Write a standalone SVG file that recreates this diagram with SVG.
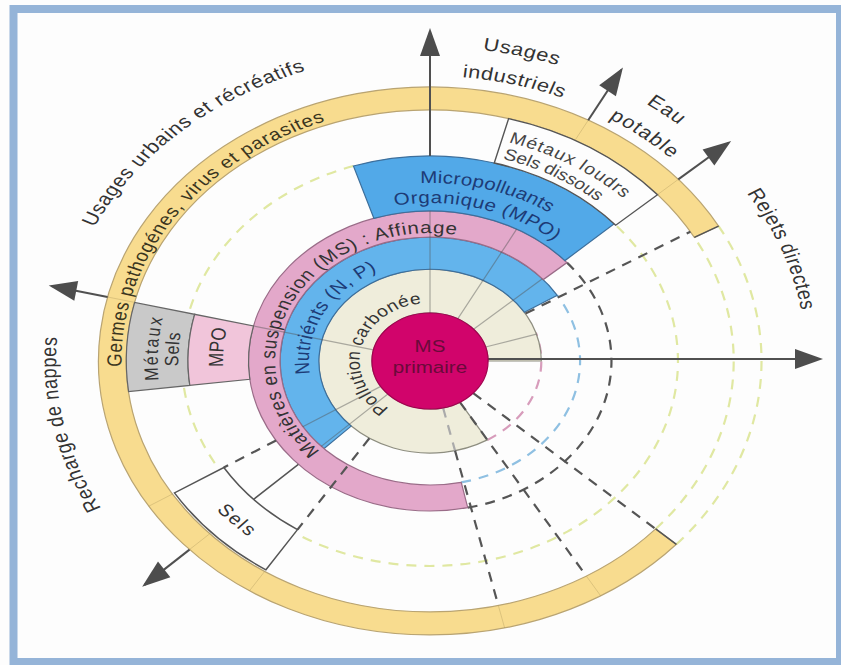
<svg xmlns="http://www.w3.org/2000/svg" width="841" height="665" viewBox="0 0 841 665">
<defs>
<style>
text{font-family:"Liberation Sans",Arial,sans-serif}
.ns{vector-effect:non-scaling-stroke}
.dash{fill:none;stroke-width:2.2;stroke-dasharray:10 8;vector-effect:non-scaling-stroke}
.yg{stroke:#e0e8a2}
.dk{stroke:#555}
.bl{stroke:#8fc0e2}
.pk{stroke:#d79cbb}
.lg{stroke:#aaa}
.thin{stroke:#555;stroke-opacity:.45;stroke-width:1.2;vector-effect:non-scaling-stroke}
.tick{stroke:#9a8850;stroke-opacity:.3;stroke-width:1;vector-effect:non-scaling-stroke}
.edge{stroke:#555;stroke-width:1.5;vector-effect:non-scaling-stroke;fill:none}
.arr{stroke:#505050;stroke-width:2;fill:none;marker-end:url(#ah)}
.out{font-size:18px;fill:#333}
.blue{fill:#1d3b76}
</style>
<marker id="ah" markerUnits="userSpaceOnUse" viewBox="-28 -12 34 24" markerWidth="34" markerHeight="24" refX="0" refY="0" orient="auto">
<path d="M3,0 L-25,-10 L-25,10 Z" fill="#4d4d4d"/>
</marker>
<path id="pUrb" d="M -304.9 -43.7 A 308 308 0 0 1 -9.9 -307.8"/>
<path id="pGerm" d="M -245.7 68.1 A 255 255 0 0 1 -24.4 -253.8"/>
<path id="pRech" d="M -229.6 206.8 A 309 309 0 0 1 -293.9 -95.5"/>
<path id="pUsg" d="M -61.0 -308.0 A 314 314 0 0 1 196.8 -244.7"/>
<path id="pInd" d="M -54.4 -279.8 A 285 285 0 0 1 179.4 -221.5"/>
<path id="pEau" d="M 96.7 -297.7 A 313 313 0 0 1 265.4 -165.9"/>
<path id="pPot" d="M 87.8 -270.1 A 284 284 0 0 1 240.8 -150.5"/>
<path id="pRej" d="M 216.0 -223.7 A 311 311 0 0 1 310.2 21.7"/>
<path id="pMicro" d="M -44.6 -172.3 A 178 178 0 0 1 127.0 -124.8"/>
<path id="pOrg" d="M -54.0 -148.5 A 158 158 0 0 1 121.0 -101.6"/>
<path id="pMat" d="M -78.1 101.4 A 128 128 0 0 1 38.7 -122.0"/>
<path id="pNut" d="M -95.9 28.4 A 100 100 0 0 1 -28.4 -95.9"/>
<path id="pPol" d="M -19.4 54.7 A 58 58 0 0 1 9.6 -57.2"/>
<path id="pMet" d="M 64.8 -218.6 A 228 228 0 0 1 197.4 -114"/>
<path id="pSd" d="M 59.9 -202.3 A 211 211 0 0 1 182.7 -105.5"/>
<path id="pLMet" d="M -209.0 83.4 A 225 225 0 0 1 -198.2 -106.5"/>
<path id="pLSels" d="M -193.2 77.1 A 208 208 0 0 1 -183.2 -98.4"/>
<path id="pLMpo" d="M -160.2 59.9 A 171 171 0 0 1 -148.8 -84.2"/>
<path id="pSels" d="M -217.1 79.0 A 231 231 0 0 0 -79.0 217.1"/>
</defs>

<rect x="0" y="0" width="841" height="665" fill="#fdfdfd"/>
<rect x="13.5" y="9" width="826.5" height="653" fill="none" stroke="#95b4d8" stroke-width="8"/>

<g id="guides" transform="translate(430 361) scale(1.21 1)">
<path class="dash yg" d="M -63.3 -195.0 A 205 205 0 1 0 153.5 -135.8"/>
<path class="dash yg" d="M 186.5 167.9 A 251 251 0 0 0 218.5 -123.6"/>
<path class="dash yg" d="M 203.6 183.3 A 274 274 0 0 0 238.5 -134.9"/>
<path class="dash pk" d="M 47.4 78.9 A 92 92 0 0 0 87.5 -28.4"/>
<path class="dash bl" d="M 25.8 121.3 A 124 124 0 0 0 105.2 -65.7"/>
<path class="dash dk" d="M 31.2 146.7 A 150 150 0 0 0 113.2 -98.4"/>
</g>

<g id="rings" transform="translate(430 361) scale(1.21 1)">
<g id="band-germes">
<path class="ns" d="M 238.5 -134.9 A 274 274 0 1 0 203.6 183.3 L 186.5 167.9 A 251 251 0 1 1 218.5 -123.6 Z" fill="#f8dc8f" stroke="#b9a472" stroke-width="1.2"/>
<text font-size="17" fill="#3a3520" letter-spacing="0.7" text-anchor="middle"><textPath href="#pGerm" startOffset="50%">Germes pathogénes, virus et parasites</textPath></text>
</g>
<g id="ring-pollution">
<path class="ns" d="M 92 0 A 92 92 0 1 0 47.4 78.9 L 24.7 41.1 A 48 48 0 1 1 48 0 Z" fill="#efeddb" stroke="#8e8e80" stroke-width="1.2"/>
</g>
<g id="ring-nutrients">
<path class="ns" d="M 105.2 -65.7 A 124 124 0 1 0 -87.7 87.7 L -65.1 65.1 A 92 92 0 1 1 78.0 -48.8 Z" fill="#63b4ec" stroke="#3d6f9c" stroke-width="1.2"/>
</g>
<g id="ring-ms">
<path class="ns" d="M 113.2 -98.4 A 150 150 0 1 0 31.2 146.7 L 25.8 121.3 A 124 124 0 1 1 93.6 -81.4 Z" fill="#e3a8ca" stroke="#9a6c88" stroke-width="1.2"/>
</g>
<g id="band-mpo">
<path class="ns" d="M 152.3 -137.2 A 205 205 0 0 0 -63.3 -195.0 L -46.4 -142.7 A 150 150 0 0 1 111.5 -100.4 Z" fill="#52a9e8" stroke="#3d6f9c" stroke-width="1.2"/>
</g>
<g id="box-metaux">
<path class="ns" d="M 188.0 -166.3 A 251 251 0 0 0 65.0 -242.4 L 53.1 -198.0 A 205 205 0 0 1 153.5 -135.8 Z" fill="#fdfdfd" stroke="#555" stroke-width="1.4"/>
</g>
<g id="box-left">
<path class="ns" d="M -244.1 -58.6 A 251 251 0 0 0 -249.1 30.6 L -198.5 24.4 A 200 200 0 0 1 -194.5 -46.7 Z" fill="#c9c9c9" stroke="#666" stroke-width="1.2"/>
<path class="ns" d="M -194.5 -46.7 A 200 200 0 0 0 -198.5 24.4 L -148.9 18.3 A 150 150 0 0 1 -145.9 -35.0 Z" fill="#f1c5da" stroke="#666" stroke-width="1.2"/>
</g>
<g id="box-sels">
<path class="ns" d="M -211.2 131.9 A 249 249 0 0 0 -135.6 208.8 L -109.5 168.6 A 201 201 0 0 1 -170.4 106.5 Z" fill="#fdfdfd" stroke="#555" stroke-width="1.5"/>
</g>
</g>

<g id="connectors">
<g transform="translate(430 361) scale(1.21 1)">
<path class="thin" d="M 45.9 -14.0 L 88.0 -26.9 M 36.0 -31.8 L 92.9 -82.2 M 22.9 -42.2 L 71.6 -131.8 M 0 -48 L 0 -150 M -46.7 -11.2 L -145.9 -35.0 M -40.7 25.4 L -105.2 65.7 M -34.8 33.0 L -89.9 85.4"/>
<path class="dash lg" d="M 10.8 46.8 L 20.7 89.6"/>
<path class="dash dk" d="M 20.7 89.6 L 56.5 244.6 M 24.7 41.1 L 129.3 215.2 M 35.7 32.1 L 186.5 167.9 M 78.9 -47.4 L 215.2 -129.3 M -127.2 79.5 L -170.4 106.5 M -50.1 77.2 L -109.5 168.6"/>
<path class="edge" d="M -108.8 103.3 L -145.8 138.4 M 186.5 167.9 L 203.6 183.3 M 218.5 -123.6 L 238.5 -134.9"/>
<path class="tick" d="M 188.0 -166.3 L 205.2 -181.6 M 119.8 -220.6 L 130.8 -240.8 M -244.1 -58.6 L -266.4 -64.0 M -212.8 133.0 L -232.4 145.2 M -182.1 172.8 L -198.8 188.6 M -136.7 210.5 L -149.2 229.8 M 56.5 244.6 L 61.7 267.0 M 129.3 215.2 L 141.1 234.9"/>
</g>
<path class="arr" d="M 430 156 L 430 31"/>
<path class="arr" d="M 588.2 120.2 L 621.3 69.9"/>
<path class="arr" d="M 678.3 179.4 L 728.7 142.8"/>
<path class="arr" d="M 488 359 L 820 359"/>
<path class="arr" d="M 107.6 297 L 51.7 286"/>
<path class="arr" d="M 189.5 549.6 L 144.5 584.9"/>
</g>

<g id="ms-primaire" transform="translate(430 361) scale(1.21 1)">
<circle class="ns" cx="0" cy="0" r="48" fill="#d1046b" stroke="#a3004f" stroke-width="1.2"/>
<text x="0" y="-9" font-size="17" fill="#6a0a3a" text-anchor="middle">MS</text>
<text x="0" y="12" font-size="17" fill="#6a0a3a" text-anchor="middle">primaire</text>
</g>

<g id="ring-labels" transform="translate(430 361) scale(1.21 1)">
<text font-size="16" fill="#333" letter-spacing="0.4" text-anchor="middle"><textPath href="#pPol" startOffset="50%">Pollution carbonée</textPath></text>
<text font-size="17" class="blue" letter-spacing="0.5" text-anchor="middle"><textPath href="#pNut" startOffset="50%">Nutriénts (N, P)</textPath></text>
<text font-size="17" fill="#333" letter-spacing="0.7" text-anchor="middle"><textPath href="#pMat" startOffset="50%">Matières en suspension (MS) : Affinage</textPath></text>
<text font-size="17" class="blue" letter-spacing="0.2" text-anchor="middle"><textPath href="#pMicro" startOffset="50%">Micropolluants</textPath></text>
<text font-size="17" class="blue" letter-spacing="0.45" text-anchor="middle"><textPath href="#pOrg" startOffset="50%">Organique (MPO)</textPath></text>
<text font-size="16" fill="#444" letter-spacing="0.9"><textPath href="#pMet">Métaux loudrs</textPath></text>
<text font-size="16" fill="#444"><textPath href="#pSd">Sels dissous</textPath></text>
<text font-size="16" fill="#333" letter-spacing="2" text-anchor="middle"><textPath href="#pLMet" startOffset="50%">Métaux</textPath></text>
<text font-size="16" fill="#333" letter-spacing="0.7" text-anchor="middle"><textPath href="#pLSels" startOffset="50%">Sels</textPath></text>
<text font-size="17" fill="#333" text-anchor="middle"><textPath href="#pLMpo" startOffset="50%">MPO</textPath></text>
<text font-size="17" fill="#333" letter-spacing="1.5" text-anchor="middle"><textPath href="#pSels" startOffset="50%">Sels</textPath></text>
</g>

<g id="outputs" transform="translate(430 361) scale(1.21 1)">
<text class="out" letter-spacing="0.6" text-anchor="middle"><textPath href="#pUrb" startOffset="50%">Usages urbains et récréatifs</textPath></text>
<text class="out" letter-spacing="0.6" text-anchor="middle"><textPath href="#pRech" startOffset="50%">Recharge de nappes</textPath></text>
<text class="out" letter-spacing="0.5" text-anchor="middle"><textPath href="#pUsg" startOffset="50%">Usages</textPath></text>
<text class="out" letter-spacing="0.45" text-anchor="middle"><textPath href="#pInd" startOffset="50%">industriels</textPath></text>
<text class="out" letter-spacing="1" text-anchor="middle"><textPath href="#pEau" startOffset="50%">Eau</textPath></text>
<text class="out" letter-spacing="1" text-anchor="middle"><textPath href="#pPot" startOffset="50%">potable</textPath></text>
<text class="out" letter-spacing="0.5" text-anchor="middle"><textPath href="#pRej" startOffset="50%">Rejets directes</textPath></text>
</g>
</svg>
